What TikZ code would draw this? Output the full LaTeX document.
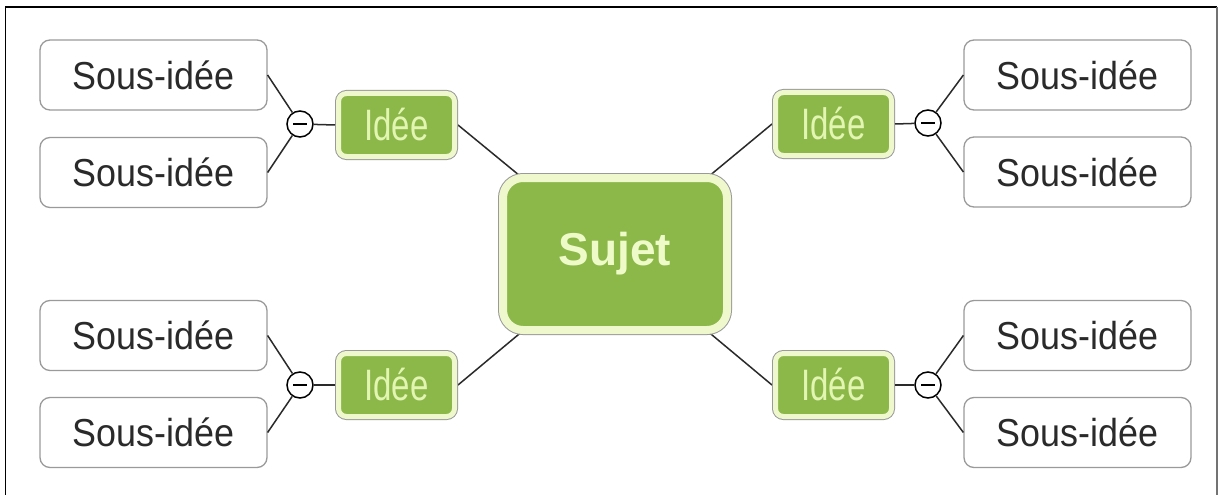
\documentclass[tikz,border=0pt]{standalone}
\usepackage{fontspec}
\setmainfont{Liberation Sans}
\usetikzlibrary{backgrounds}
\definecolor{leaf}{HTML}{8CB84A}
\definecolor{ring}{HTML}{EEF8CC}
\definecolor{leaftext}{HTML}{E2F6B2}
\definecolor{sujettext}{HTML}{EEFAC8}
\definecolor{boxline}{HTML}{9A9A9A}
\definecolor{ink}{HTML}{2A2A2A}
\tikzset{
  subbox/.style={draw=boxline, line width=1.3pt, fill=white, rounded corners=10pt,
    minimum width=227pt, minimum height=70pt, inner sep=0pt, outer sep=0.6pt,
    text=ink, font=\fontsize{39}{39}\selectfont},
  ideabox/.style={fill=leaf, draw=ring, line width=5pt, rounded corners=8pt,
    preaction={draw=boxline, line width=7pt},
    minimum width=116pt, minimum height=63pt, inner sep=0pt, outer sep=3.5pt,
    text=leaftext, font=\fontsize{44}{44}\selectfont},
  sujetbox/.style={fill=leaf, draw=ring, line width=8pt, rounded corners=20pt,
    preaction={draw=boxline, line width=10pt},
    minimum width=224pt, minimum height=152pt, inner sep=0pt,
    text=sujettext, font=\fontsize{46}{46}\selectfont\bfseries},
  knob/.style={circle, draw=black, line width=1.5pt, fill=white, minimum size=26pt,
    inner sep=0pt, outer sep=0.75pt,
    path picture={\draw[line width=2.2pt] ([xshift=-7pt]path picture bounding box.center) -- ([xshift=7pt]path picture bounding box.center);}},
  link/.style={draw=ink, line width=1.5pt},
  frameline/.style={line width=1.4pt}
}
\begin{document}
\begin{tikzpicture}[x=1pt,y=-1pt]
\useasboundingbox (0,0) rectangle (1219,495);
\coordinate (fa) at (5.5,495);
\coordinate (fb) at (5.5,7);
\coordinate (fc) at (1217,7);
\coordinate (fd) at (1217,495);

% central topic
\node[sujetbox] (S) at (615,254) {Sujet};

% ideas
\node[ideabox] (I1) at (396.5,125) {\scalebox{0.75}[1]{Idée}};
\node[ideabox] (I2) at (833.5,124) {\scalebox{0.75}[1]{Idée}};
\node[ideabox] (I3) at (396.5,385) {\scalebox{0.75}[1]{Idée}};
\node[ideabox] (I4) at (833.5,385) {\scalebox{0.75}[1]{Idée}};

% knobs
\node[knob] (K1) at (300,124) {};
\node[knob] (K2) at (928,123) {};
\node[knob] (K3) at (300,385) {};
\node[knob] (K4) at (928,385) {};

% sub-ideas
\node[subbox] (A1) at (153.5,75) {\scalebox{0.92}[1]{Sous-idée}};
\node[subbox] (A2) at (153.5,172.5) {\scalebox{0.92}[1]{Sous-idée}};
\node[subbox] (B1) at (1077.5,75) {\scalebox{0.92}[1]{Sous-idée}};
\node[subbox] (B2) at (1077.5,172) {\scalebox{0.92}[1]{Sous-idée}};
\node[subbox] (C1) at (153.5,335.5) {\scalebox{0.92}[1]{Sous-idée}};
\node[subbox] (C2) at (153.5,432.5) {\scalebox{0.92}[1]{Sous-idée}};
\node[subbox] (D1) at (1077.5,335.5) {\scalebox{0.92}[1]{Sous-idée}};
\node[subbox] (D2) at (1077.5,432.5) {\scalebox{0.92}[1]{Sous-idée}};

\begin{scope}[on background layer]
  \fill[white] (0,0) rectangle (1219,495);
  \draw[link] (I1.east) -- (S.center);
  \draw[link] (I2.west) -- (S.center);
  \draw[link] (I3.east) -- (S.center);
  \draw[link] (I4.west) -- (S.center);
\end{scope}

\draw[frameline, black] (fa) -- (fb) -- (fc);
\draw[line width=1.4pt, black!55] (fc) -- (fd);

\draw[link] (I1.west) -- (K1);
\draw[link] (I2.east) -- (K2);
\draw[link] (I3.west) -- (K3);
\draw[link] (I4.east) -- (K4);

\draw[link] (K1) -- (A1.east);
\draw[link] (K1) -- (A2.east);
\draw[link] (K2) -- (B1.west);
\draw[link] (K2) -- (B2.west);
\draw[link] (K3) -- (C1.east);
\draw[link] (K3) -- (C2.east);
\draw[link] (K4) -- (D1.west);
\draw[link] (K4) -- (D2.west);
\end{tikzpicture}
\end{document}
